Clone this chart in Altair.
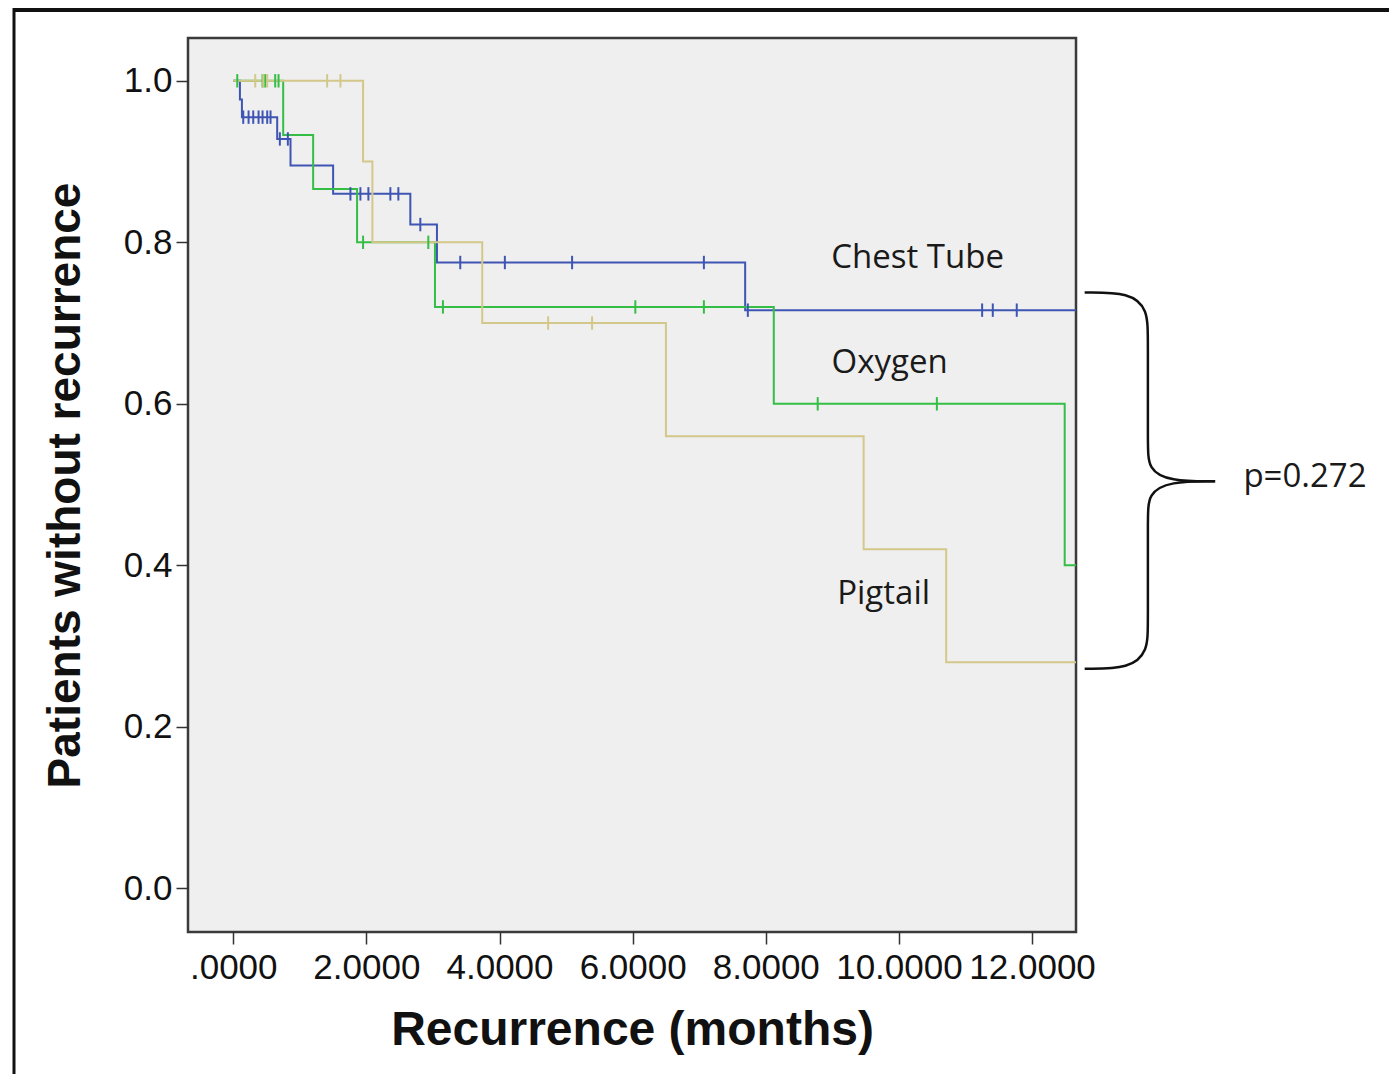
import altair as alt
import pandas as pd

# ---- Kaplan-Meier step data (months, proportion without recurrence) ----
groups = ["Chest Tube", "Oxygen", "Pigtail"]
colors = ["#3E55B4", "#34BE46", "#D3C88A"]

chest_t = [0.0, 0.10, 0.13, 0.66, 0.86, 1.50, 2.66, 3.06, 7.69, 12.66]
chest_s = [1.0, 0.977, 0.955, 0.928, 0.895, 0.860, 0.822, 0.775, 0.716, 0.716]

oxy_t = [0.0, 0.75, 1.20, 1.86, 3.03, 8.12, 12.49, 12.66]
oxy_s = [1.0, 0.933, 0.866, 0.800, 0.720, 0.600, 0.400, 0.400]

pig_t = [0.0, 1.95, 2.09, 3.74, 6.50, 9.47, 10.71, 12.66]
pig_s = [1.0, 0.900, 0.800, 0.700, 0.560, 0.420, 0.280, 0.280]

# censored observations
chest_ct = [0.15, 0.23, 0.30, 0.38, 0.44, 0.51, 0.56, 0.70, 0.82,
            1.76, 1.91, 2.03, 2.36, 2.48, 2.81, 3.41, 4.08, 5.09, 7.07,
            7.73, 11.25, 11.41, 11.77]
chest_cs = [0.955] * 7 + [0.928] * 2 + [0.860] * 5 + [0.822] + [0.775] * 4 + [0.716] * 4

oxy_ct = [0.06, 0.44, 0.48, 0.63, 0.68, 1.95, 2.93, 3.15, 6.04, 7.07, 8.78, 10.57]
oxy_cs = [1.0] * 5 + [0.800] * 2 + [0.720] * 3 + [0.600] * 2

pig_ct = [0.33, 0.45, 0.51, 1.41, 1.61, 4.73, 5.39]
pig_cs = [1.0] * 5 + [0.700] * 2

# curve labels
label_text = ["Chest Tube", "Oxygen", "Pigtail", "p=0.272"]
label_x = [10.28, 9.86, 9.77, 16.1]
label_y = [0.781, 0.650, 0.364, 0.509]

# brace annotation (data units)
brace_x_top = [12.79, 13.47, 13.74, 13.74, 13.74, 13.74, 14.07, 14.75]
brace_y_top = [0.738, 0.738, 0.717, 0.680, 0.550, 0.519, 0.504, 0.504]
brace_x_bot = [14.75, 14.07, 13.74, 13.74, 13.74, 13.74, 13.47, 12.79]
brace_y_bot = [0.504, 0.504, 0.489, 0.458, 0.327, 0.294, 0.272, 0.272]

x_ticks = [0, 2, 4, 6, 8, 10, 12]
y_ticks = [0.0, 0.2, 0.4, 0.6, 0.8, 1.0]

# ---- build tables ----
steps = pd.concat([
    pd.DataFrame({"t": chest_t, "s": chest_s, "g": "Chest Tube"}),
    pd.DataFrame({"t": oxy_t, "s": oxy_s, "g": "Oxygen"}),
    pd.DataFrame({"t": pig_t, "s": pig_s, "g": "Pigtail"}),
])
cens = pd.concat([
    pd.DataFrame({"t": chest_ct, "s": chest_cs, "g": "Chest Tube"}),
    pd.DataFrame({"t": oxy_ct, "s": oxy_cs, "g": "Oxygen"}),
    pd.DataFrame({"t": pig_ct, "s": pig_cs, "g": "Pigtail"}),
])
labels = pd.DataFrame({"t": label_x, "s": label_y, "txt": label_text})
brace = pd.concat([
    pd.DataFrame({"t": brace_x_top, "s": brace_y_top, "part": "top", "i": range(len(brace_x_top))}),
    pd.DataFrame({"t": brace_x_bot, "s": brace_y_bot, "part": "bot", "i": range(len(brace_x_bot))}),
])

xs = alt.Scale(domain=[-0.68, 12.66], nice=False, zero=False)
ys = alt.Scale(domain=[-0.054, 1.053], nice=False, zero=False)
cs = alt.Scale(domain=groups, range=colors)

x_axis = alt.Axis(
    values=x_ticks,
    labelExpr="datum.value == 0 ? '.0000' : format(datum.value, '.4f')",
    title="Recurrence (months)",
    grid=False, domain=False, tickSize=12, tickColor="#333333", tickWidth=1.5,
    labelFont="Liberation Sans", labelFontSize=35, labelColor="#111111", labelPadding=6,
    titleFont="Liberation Sans", titleFontSize=48, titleFontWeight="bold",
    titleColor="#111111", titlePadding=21,
)
y_axis = alt.Axis(
    values=y_ticks, format=".1f",
    title="Patients without recurrence",
    grid=False, domain=False, tickSize=12, tickColor="#333333", tickWidth=1.5,
    labelFont="Liberation Sans", labelFontSize=35, labelColor="#111111", labelPadding=4,
    titleFont="Liberation Sans", titleFontSize=46, titleFontWeight="bold",
    titleColor="#111111", titlePadding=34,
)

base_x = alt.X("t:Q", scale=xs, axis=x_axis)
base_y = alt.Y("s:Q", scale=ys, axis=y_axis)

lines = alt.Chart(steps).mark_line(interpolate="step-after", strokeWidth=2).encode(
    x=base_x, y=base_y,
    color=alt.Color("g:N", scale=cs, legend=None),
)

ticks = alt.Chart(cens).mark_point(
    shape="M0,-1L0,1", filled=False, strokeWidth=2, size=180, opacity=1
).encode(
    x=alt.X("t:Q", scale=xs), y=alt.Y("s:Q", scale=ys),
    color=alt.Color("g:N", scale=cs, legend=None),
)

texts = alt.Chart(labels).mark_text(
    font="Open Sans", fontSize=33, color="#1a1a1a", align="center", baseline="middle"
).encode(
    x=alt.X("t:Q", scale=xs), y=alt.Y("s:Q", scale=ys), text="txt:N"
)

brace_line = alt.Chart(brace).mark_line(
    interpolate="basis", color="#111111", strokeWidth=2.5
).encode(
    x=alt.X("t:Q", scale=xs), y=alt.Y("s:Q", scale=ys),
    detail="part:N", order="i:Q",
)

# outer picture frame (decoration)
frame_top = alt.Chart(pd.DataFrame({"a": [0]})).mark_rule(color="#111111", strokeWidth=4).encode(
    x=alt.value(-174), x2=alt.value(1209), y=alt.value(-28)
)
frame_left = alt.Chart(pd.DataFrame({"a": [0]})).mark_rule(color="#111111", strokeWidth=3).encode(
    x=alt.value(-174), y=alt.value(-30), y2=alt.value(1044)
)

chart = alt.layer(frame_top, frame_left, lines, ticks, brace_line, texts).properties(
    width=888, height=894,
    autosize=alt.AutoSizeParams(type="none"),
    padding={"left": 180, "top": 30, "right": 313, "bottom": 142},
    background="white",
).configure_view(
    fill="#EFEFEF", stroke="#3a3a3a", strokeWidth=2.5
)

chart.save("out.html", embed_options={"renderer": "svg", "actions": False})
